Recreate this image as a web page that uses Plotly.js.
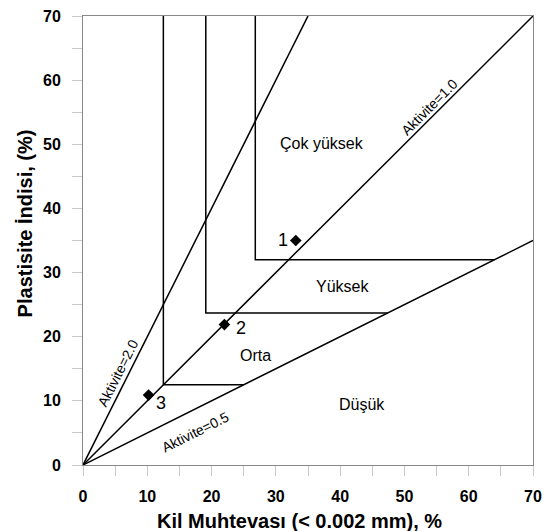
<!DOCTYPE html>
<html><head><meta charset="utf-8">
<script src="https://cdn.plot.ly/plotly-3.0.1.min.js"></script>
<style>html,body{margin:0;padding:0;background:#fff}</style>
</head><body><div id="chart" style="width:546px;height:531px"></div>
<script>
// Axis ticks and titles
const tickVals = [0, 10, 20, 30, 40, 50, 60, 70];
const tickLabels = ['0', '10', '20', '30', '40', '50', '60', '70'];
const xTitle = 'Kil Muhtevası (< 0.002 mm), %';
const yTitle = 'Plastisite İndisi, (%)';
// Activity lines (endpoints)
const act20X = [0, 35], act20Y = [0, 70];
const act10X = [0, 70], act10Y = [0, 70];
const act05X = [0, 70], act05Y = [0, 35];
// Zone boundaries
const cokX = [26.8, 26.8, 64], cokY = [70, 32, 32];
const yukX = [19.1, 19.1, 47.4], yukY = [70, 23.7, 23.7];
const ortaX = [12.5, 12.5, 25], ortaY = [70, 12.5, 12.5];
// Samples
const sampleX = [33.1, 22.0, 10.2];
const sampleY = [35.0, 21.9, 10.9];
const sampleLabels = ['1', '2', '3'];
const sampleLabelX = [31.1, 24.6, 12.1];
const sampleLabelY = [35.1, 21.3, 9.6];
// Zone labels
const zoneNames = ['Çok yüksek', 'Yüksek', 'Orta', 'Düşük'];
const zoneX = [37.1, 40.4, 26.9, 43.4];
const zoneY = [50.2, 27.8, 17.0, 9.4];
// Activity labels
const actNames = ['Aktivite=2.0', 'Aktivite=1.0', 'Aktivite=0.5'];
const actX = [5.4, 53.9, 17.5];
const actY = [14.4, 55.8, 5.1];
const actAngle = [-63.4, -45, -26.6];

const lineStyle = {color: '#000', width: 1.5};
const traces = [];
[[act20X, act20Y], [act10X, act10Y], [act05X, act05Y], [cokX, cokY], [yukX, yukY], [ortaX, ortaY]].forEach(p => {
  traces.push({x: p[0], y: p[1], mode: 'lines', line: lineStyle, hoverinfo: 'skip', showlegend: false, cliponaxis: false});
});
traces.push({x: sampleX, y: sampleY, mode: 'markers', marker: {symbol: 'diamond', size: 9, color: '#000'}, showlegend: false});

const font = 'Liberation Sans, Arial, sans-serif';
const annotations = [];
sampleLabels.forEach((t, i) => annotations.push({x: sampleLabelX[i], y: sampleLabelY[i], text: t, showarrow: false, font: {family: font, size: 18, color: '#000'}}));
zoneNames.forEach((t, i) => annotations.push({x: zoneX[i], y: zoneY[i], text: t, showarrow: false, font: {family: font, size: 16, color: '#000'}}));
actNames.forEach((t, i) => annotations.push({x: actX[i], y: actY[i], text: t, showarrow: false, textangle: actAngle[i], font: {family: font, size: 14, color: '#000'}}));
// Axis titles placed as paper annotations (positions matched to reference)
annotations.push({xref: 'paper', yref: 'paper', x: 0.482, y: -0.125, xanchor: 'center', yanchor: 'middle',
  text: '<b>' + xTitle + '</b>', showarrow: false, font: {family: font, size: 20, color: '#000'}});
annotations.push({xref: 'paper', yref: 'paper', x: -0.13, y: 0.537, xanchor: 'center', yanchor: 'middle', textangle: -90,
  text: '<b>' + yTitle + '</b>', showarrow: false, font: {family: font, size: 20, color: '#000'}});

const boldTicks = tickLabels.map(t => '<b>' + t + '</b>');
const axisCommon = {
  range: [0, 70], tickmode: 'array', tickvals: tickVals, ticktext: boldTicks,
  showgrid: false, zeroline: false,
  showline: true, linecolor: '#888', linewidth: 1, mirror: true,
  ticks: 'outside', ticklen: 10, tickcolor: '#c8c8c8', tickwidth: 1,
  minor: {dtick: 5, tick0: 0, ticks: 'outside', ticklen: 10, tickcolor: '#c8c8c8', showgrid: false},
  tickfont: {family: font, size: 16, color: '#000'},
  fixedrange: true
};
const layout = {
  width: 546, height: 531,
  margin: {l: 83, r: 13, t: 16, b: 66},
  paper_bgcolor: '#fff', plot_bgcolor: '#fff',
  xaxis: Object.assign({}, axisCommon, {ticklabelstandoff: 7}),
  yaxis: Object.assign({}, axisCommon, {ticklabelstandoff: 8}),
  annotations: annotations,
  showlegend: false
};
Plotly.newPlot('chart', traces, layout, {staticPlot: true});
</script></body></html>
